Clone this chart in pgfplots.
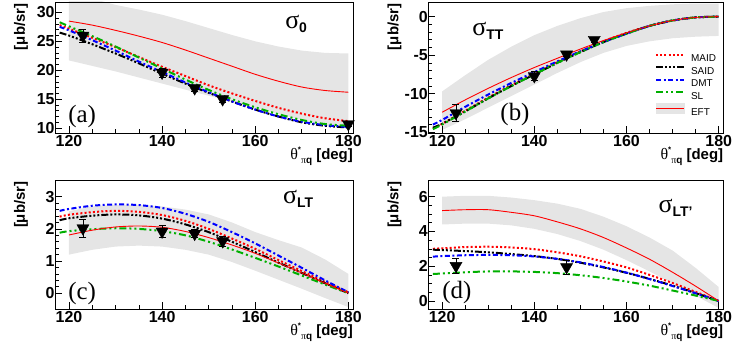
\documentclass[border=0pt]{standalone}
\usepackage{pgfplots}
\pgfplotsset{compat=1.18}
\usepackage{fontspec}
\setmainfont{Liberation Sans}
\newfontfamily\serif{Liberation Serif}
\definecolor{band}{RGB}{229,229,229}
\definecolor{sgreen}{RGB}{0,175,0}
\newcommand{\tf}{\fontsize{15}{15}\selectfont\bfseries}
\newcommand{\tkf}{\fontsize{16}{16}\selectfont\bfseries}
\newcommand{\xlab}{\tf{\serif\mdseries\fontsize{16}{16}\selectfont θ}\raisebox{7bp}{\fontsize{8}{8}\selectfont *}\raisebox{-3.5bp}{\fontsize{10}{10}\selectfont{\serif\mdseries π}q}\ [deg]}
\newcommand{\ylab}{\tf [μb/sr]}
\newcommand{\sig}[1]{{\serif\fontsize{26}{26}\selectfont σ}\raisebox{-4bp}{\fontsize{14}{14}\selectfont\bfseries #1}}
\newcommand{\plab}[1]{{\serif\fontsize{25}{25}\selectfont (#1)}}
\pgfplotsset{
  panel/.style={
    scale only axis, anchor=south west,
    xmin=117, xmax=181,
    xtick={120,140,160,180}, minor x tick num=3,
    tick align=inside, tick pos=left,
    major tick length=7bp, minor tick length=4bp,
    axis line style={line width=0.8bp},
    tick style={line width=0.6bp, black},
    ticklabel style={font=\tkf},
    /pgf/number format/assume math mode=true,
    yticklabel style={xshift=3bp},
    xticklabel style={yshift=1bp},
    xlabel={\xlab},
    xlabel style={at={(rel axis cs:1,0)}, anchor=north east, inner sep=0pt, yshift=-14bp},
    ylabel={\ylab},
    ylabel style={at={(rel axis cs:-0.09,0.99)}, anchor=south east, inner sep=0pt},
    axis on top,
    legend image code/.code={\draw[##1] (0bp,3.5bp) -- (28bp,3.5bp);},
  },
  maid/.style={red, line width=2bp, dash pattern=on 2bp off 2.2bp, smooth},
  said/.style={black, line width=2bp, dash pattern=on 7bp off 2bp on 2bp off 2bp on 2bp off 2bp on 2bp off 2bp, smooth},
  dmt/.style={blue, line width=2bp, dash pattern=on 5bp off 2.5bp on 2bp off 2.5bp, smooth},
  sl/.style={sgreen, line width=2bp, dash pattern=on 7bp off 3bp on 2bp off 3bp on 2bp off 3bp, smooth},
  eft/.style={red, line width=0.9bp, smooth},
  bandst/.style={fill=band, draw=none, forget plot},
  data/.style={black, only marks, forget plot, mark=triangle*, mark size=7bp,
    mark options={rotate=180, fill=black, solid},
    error bars/.cd, y dir=both, y explicit,
    error bar style={line width=0.8bp, black},
    error mark options={rotate=90, line width=0.8bp, mark size=3.5bp, black}},
}
\begin{document}
\begin{tikzpicture}
\useasboundingbox (0,0) rectangle (747bp,355bp);
% ---------------- (a)
\begin{axis}[panel, at={(55bp,221.7bp)}, width=298bp, height=131.3bp,
  ymin=9.1, ymax=31.8, ytick={10,15,20,25,30}, minor y tick num=4]
\addplot[bandst] coordinates {(120,33.5)(125,32.4)(130,31.3)(135,30.5)(140,29.6)(145,28.5)(150,27.3)(155,26.1)(160,25.0)(165,24.1)(170,23.4)(175,23.0)(180,22.9)
  (180,9.9)(175,10.55)(170,11.4)(165,12.45)(160,13.5)(155,14.55)(150,15.6)(145,16.65)(140,17.7)(135,18.75)(130,19.8)(125,20.75)(120,21.7)} -- cycle;
\addplot[maid] coordinates {(118,27.8)(120,27.2)(125,25.6)(130,24.0)(135,22.3)(140,20.6)(145,19.0)(150,17.4)(155,16.0)(160,14.7)(165,13.5)(170,12.5)(175,11.7)(180,11.2)};
\addplot[said] coordinates {(118,26.5)(120,26.0)(125,24.5)(130,22.9)(135,21.2)(140,19.4)(145,17.7)(150,16.1)(155,14.6)(160,13.2)(165,12.0)(170,11.0)(175,10.4)(180,10.1)};
\addplot[dmt] coordinates {(118,27.5)(120,26.9)(125,25.2)(130,23.4)(135,21.5)(140,19.7)(145,17.9)(150,16.2)(155,14.6)(160,13.2)(165,12.0)(170,11.1)(175,10.5)(180,10.2)};
\addplot[sl] coordinates {(118,28.3)(120,27.6)(125,25.9)(130,24.1)(135,22.2)(140,20.3)(145,18.4)(150,16.6)(155,15.0)(160,13.6)(165,12.4)(170,11.4)(175,10.7)(180,10.4)};
\addplot[eft] coordinates {(120,28.5)(125,27.8)(130,26.9)(135,25.9)(140,24.8)(145,23.5)(150,22.1)(155,20.7)(160,19.3)(165,18.1)(170,17.1)(175,16.5)(180,16.2)};
\addplot[data] coordinates {(123,26.0)+-(0,1.1) (140,19.6)+-(0,0.8) (147,16.9)+-(0,0.5) (153,15.0)+-(0,0.5) (180,10.7)+-(0,0.4)};
\node[anchor=base west, inner sep=0pt] at (rel axis cs:0.044,0.085) {\plab{a}};
\node[anchor=base west, inner sep=0pt] at (rel axis cs:0.772,0.80) {\sig{0}};
\end{axis}
% ---------------- (b)
\begin{axis}[panel, at={(428.3bp,221.7bp)}, width=295bp, height=131.3bp,
  ymin=-15.13, ymax=1.9, ytick={-15,-10,-5,0}, minor y tick num=4,
  legend cell align=left,
  legend style={at={(rel axis cs:0.768,0.611)}, anchor=north west, draw=none, fill=none,
    font=\fontsize{10}{10}\selectfont, inner sep=0pt, row sep=3bp,
    nodes={inner sep=1bp, text height=7.5bp, text depth=0bp},
    /tikz/every odd column/.append style={column sep=5bp}}]
\addplot[bandst] coordinates {(120,-9.7)(125,-7.6)(130,-5.6)(135,-3.9)(140,-2.4)(145,-1.2)(150,-0.2)(155,0.6)(160,1.1)(165,1.4)(170,1.6)(175,1.7)(180,1.7)
  (180,-2.5)(175,-2.6)(170,-2.8)(165,-3.2)(160,-3.8)(155,-4.7)(150,-5.9)(145,-7.3)(140,-8.8)(135,-10.3)(130,-11.8)(125,-13.3)(120,-14.7)} -- cycle;
\addplot[maid] coordinates {(118,-14.5)(120,-13.9)(125,-12.2)(130,-10.5)(135,-8.9)(140,-7.4)(145,-5.9)(150,-4.5)(155,-3.2)(160,-2.1)(165,-1.2)(170,-0.5)(175,-0.1)(180,0)};
\addplot[said] coordinates {(118,-14.4)(120,-13.9)(125,-12.3)(130,-10.6)(135,-9.0)(140,-7.5)(145,-6.0)(150,-4.6)(155,-3.3)(160,-2.2)(165,-1.2)(170,-0.5)(175,-0.1)(180,0)};
\addplot[dmt] coordinates {(118,-14.0)(120,-13.4)(125,-11.7)(130,-10.1)(135,-8.6)(140,-7.2)(145,-5.8)(150,-4.5)(155,-3.3)(160,-2.2)(165,-1.2)(170,-0.5)(175,-0.1)(180,0)};
\addplot[sl] coordinates {(118,-14.6)(120,-14.0)(125,-12.3)(130,-10.6)(135,-9.0)(140,-7.5)(145,-6.0)(150,-4.6)(155,-3.3)(160,-2.2)(165,-1.2)(170,-0.5)(175,-0.1)(180,0)};
\addplot[eft, legend image code/.code={\fill[band] (0bp,-1.5bp) rectangle (28bp,8.5bp); \draw[red, line width=0.9bp] (0bp,3.5bp) -- (28bp,3.5bp);}] coordinates {(120,-12.4)(125,-10.8)(130,-9.3)(135,-7.9)(140,-6.6)(145,-5.4)(150,-4.2)(155,-3.1)(160,-2.1)(165,-1.2)(170,-0.5)(175,-0.1)(180,0)};
\addplot[data] coordinates {(123,-12.5)+-(0,1.1) (140,-7.7)+-(0,0.6) (147,-4.9)+-(0,0.3) (153,-3.0)+-(0,0.3)};
\legend{MAID,SAID,DMT,SL,EFT}
\node[anchor=base west, inner sep=0pt] at (rel axis cs:0.244,0.10) {\plab{b}};
\node[anchor=base west, inner sep=0pt] at (rel axis cs:0.149,0.748) {\sig{TT}};
\end{axis}
% ---------------- (c)
\begin{axis}[panel, at={(55bp,45.7bp)}, width=298bp, height=129.3bp,
  ymin=-0.5, ymax=3.52, ytick={0,1,2,3}, minor y tick num=4]
\addplot[bandst] coordinates {(120,2.55)(125,2.7)(130,2.75)(135,2.75)(140,2.7)(145,2.6)(150,2.45)(155,2.2)(160,1.9)(165,1.65)(170,1.42)(175,1.05)(180,0.6)
  (180,-0.43)(175,-0.15)(170,0.14)(165,0.42)(160,0.7)(155,0.97)(150,1.2)(145,1.35)(140,1.45)(135,1.48)(130,1.45)(125,1.35)(120,1.2)} -- cycle;
\addplot[maid] coordinates {(118,2.38)(120,2.44)(125,2.52)(130,2.56)(135,2.53)(140,2.43)(145,2.25)(150,2.0)(155,1.7)(160,1.38)(165,1.03)(170,0.69)(175,0.35)(180,0.03)};
\addplot[said] coordinates {(118,2.27)(120,2.33)(125,2.41)(130,2.45)(135,2.42)(140,2.32)(145,2.14)(150,1.9)(155,1.6)(160,1.28)(165,0.95)(170,0.63)(175,0.31)(180,0.0)};
\addplot[dmt] coordinates {(118,2.56)(120,2.62)(125,2.72)(130,2.76)(135,2.74)(140,2.65)(145,2.47)(150,2.22)(155,1.9)(160,1.55)(165,1.17)(170,0.79)(175,0.4)(180,0.03)};
\addplot[sl] coordinates {(118,1.88)(120,1.93)(125,1.99)(130,2.02)(135,2.0)(140,1.93)(145,1.8)(150,1.6)(155,1.36)(160,1.1)(165,0.83)(170,0.55)(175,0.27)(180,0.0)};
\addplot[eft] coordinates {(120,1.81)(125,1.96)(130,2.06)(135,2.09)(140,2.05)(145,1.92)(150,1.73)(155,1.5)(160,1.24)(165,0.94)(170,0.63)(175,0.31)(180,0.0)};
\addplot[data] coordinates {(123,2.02)+-(0,0.27) (140,1.92)+-(0,0.2) (147,1.85)+-(0,0.12) (153,1.62)+-(0,0.15)};
\node[anchor=base west, inner sep=0pt] at (rel axis cs:0.044,0.072) {\plab{c}};
\node[anchor=base west, inner sep=0pt] at (rel axis cs:0.765,0.822) {\sig{LT}};
\end{axis}
% ---------------- (d)
\begin{axis}[panel, at={(428.3bp,45.7bp)}, width=295bp, height=129.3bp,
  ymin=-0.48, ymax=6.96, ytick={0,2,4,6}, minor y tick num=3]
\addplot[bandst] coordinates {(120,6.0)(125,6.05)(130,6.05)(135,5.95)(140,5.8)(145,5.6)(150,5.3)(155,4.85)(160,4.3)(165,3.65)(170,2.9)(175,1.9)(180,0.8)
  (180,-0.4)(175,0.3)(170,1.0)(165,1.7)(160,2.35)(155,2.95)(150,3.45)(145,3.85)(140,4.15)(135,4.35)(130,4.45)(125,4.45)(120,4.4)} -- cycle;
\addplot[maid] coordinates {(118,3.0)(120,3.03)(125,3.1)(130,3.12)(135,3.08)(140,2.98)(145,2.8)(150,2.57)(155,2.27)(160,1.93)(165,1.5)(170,1.03)(175,0.52)(180,0)};
\addplot[said] coordinates {(118,2.95)(120,2.93)(125,2.87)(130,2.8)(135,2.7)(140,2.58)(145,2.42)(150,2.2)(155,1.93)(160,1.62)(165,1.27)(170,0.88)(175,0.45)(180,0)};
\addplot[dmt] coordinates {(118,2.55)(120,2.58)(125,2.63)(130,2.65)(135,2.63)(140,2.56)(145,2.42)(150,2.22)(155,1.95)(160,1.63)(165,1.26)(170,0.86)(175,0.44)(180,0)};
\addplot[sl] coordinates {(118,1.55)(120,1.58)(125,1.65)(130,1.7)(135,1.7)(140,1.67)(145,1.6)(150,1.48)(155,1.32)(160,1.12)(165,0.88)(170,0.6)(175,0.31)(180,0)};
\addplot[eft] coordinates {(120,5.2)(125,5.25)(130,5.25)(135,5.1)(140,4.9)(145,4.55)(150,4.15)(155,3.65)(160,3.05)(165,2.4)(170,1.65)(175,0.85)(180,0.0)};
\addplot[data] coordinates {(123,2.02)+-(0,0.43) (147,1.95)+-(0,0.4)};
\node[anchor=base west, inner sep=0pt] at (rel axis cs:0.047,0.087) {\plab{d}};
\node[anchor=base west, inner sep=0pt] at (rel axis cs:0.78,0.752) {\sig{LT'}};
\end{axis}
\end{tikzpicture}
\end{document}
